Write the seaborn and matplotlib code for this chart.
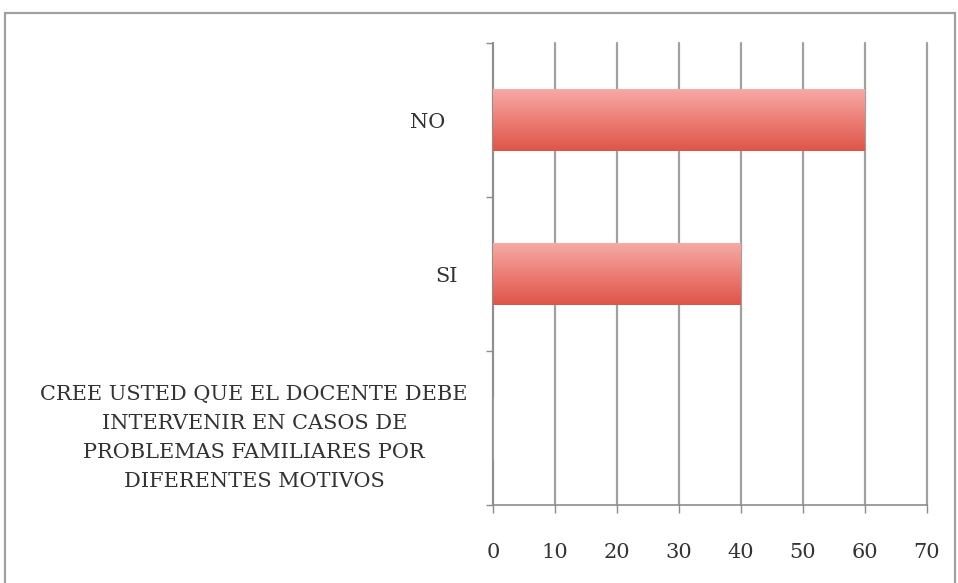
import numpy as np
import pandas as pd
import matplotlib
matplotlib.use("Agg")
import matplotlib.pyplot as plt
import matplotlib.patches as mpatches
import matplotlib.transforms as mtransforms
from matplotlib.colors import LinearSegmentedColormap
import seaborn as sns

categories = ["NO", "SI",
              "CREE USTED QUE EL DOCENTE DEBE\nINTERVENIR EN CASOS DE\nPROBLEMAS FAMILIARES POR\nDIFERENTES MOTIVOS"]
values = [60, 40, 0]
xticks = [0, 10, 20, 30, 40, 50, 60, 70]

sns.set_theme(style="white")
plt.rcParams['font.family'] = ['DejaVu Serif']

df = pd.DataFrame({"cat": categories, "val": values})

fig = plt.figure(figsize=(9.58, 5.83), dpi=100)
ax = fig.add_axes([493/958, 1-505/583, (927-493)/958, (505-43)/583])

sns.barplot(data=df, x="val", y="cat", order=categories, color="#e8706a",
            width=0.4, ax=ax, saturation=1)

# gradient overlay on bars
cmap = LinearSegmentedColormap.from_list("g", ["#f7aaa6", "#ec7e76", "#de544a"])
grad = np.linspace(0, 1, 256).reshape(-1, 1)
for p in ax.patches:
    w = p.get_width()
    if w <= 0:
        continue
    x0, y0 = p.get_x(), p.get_y()
    h = p.get_height()
    p.set_edgecolor("none")
    im = ax.imshow(grad, cmap=cmap, aspect="auto",
                   extent=(x0, x0 + w, y0 + h, y0), origin="upper", zorder=3)
    im.set_clip_path(p)

ax.set_xlim(0, 70)
ax.set_ylim(2.5, -0.5)
ax.set_xticks(xticks)
ax.set_xticklabels([str(t) for t in xticks])
ax.set_xlabel("")
ax.set_ylabel("")

# y major ticks at boundaries, labels at minor positions
ax.set_yticks([-0.5, 0.5, 1.5, 2.5])
ax.set_yticklabels([])
ax.set_yticks([0, 1, 2], minor=True)
ax.set_yticklabels(categories, minor=True, fontsize=15, color="#333333",
                   multialignment="center", linespacing=1.65)
ax.tick_params(axis="y", which="minor", length=0, pad=18)
ax.tick_params(axis="y", which="major", length=5, width=1, color="#8c8c8c",
               direction="out", left=True)
ax.tick_params(axis="x", which="major", length=6, width=1, color="#8c8c8c",
               direction="out", bottom=True, labelsize=15, labelcolor="#333333",
               pad=21)

# per-label offsets (pixels)
offsets = [(-23, 0), (-10, 0), (0, -3)]
for lab, (dx, dy) in zip(ax.get_yticklabels(minor=True), offsets):
    lab.set_transform(lab.get_transform() +
                      mtransforms.ScaledTranslation(dx / 100, dy / 100, fig.dpi_scale_trans))

ax.grid(axis="x", color="#a0a0a0", linewidth=1.6, zorder=0)
for gl in ax.get_xgridlines():
    gl.set_clip_on(False)
ax.set_axisbelow(True)
for s in ["top", "right"]:
    ax.spines[s].set_visible(False)
for s in ["left", "bottom"]:
    ax.spines[s].set_color("#8c8c8c")
    ax.spines[s].set_linewidth(1.2)

# outer frame
rect = mpatches.Rectangle((5/958, -0.01), (955-5)/958, 1.01 - 13/583,
                          transform=fig.transFigure, fill=False,
                          edgecolor="#a0a0a0", linewidth=1.6)
fig.patches.append(rect)

fig.savefig("out.png", dpi=100)
